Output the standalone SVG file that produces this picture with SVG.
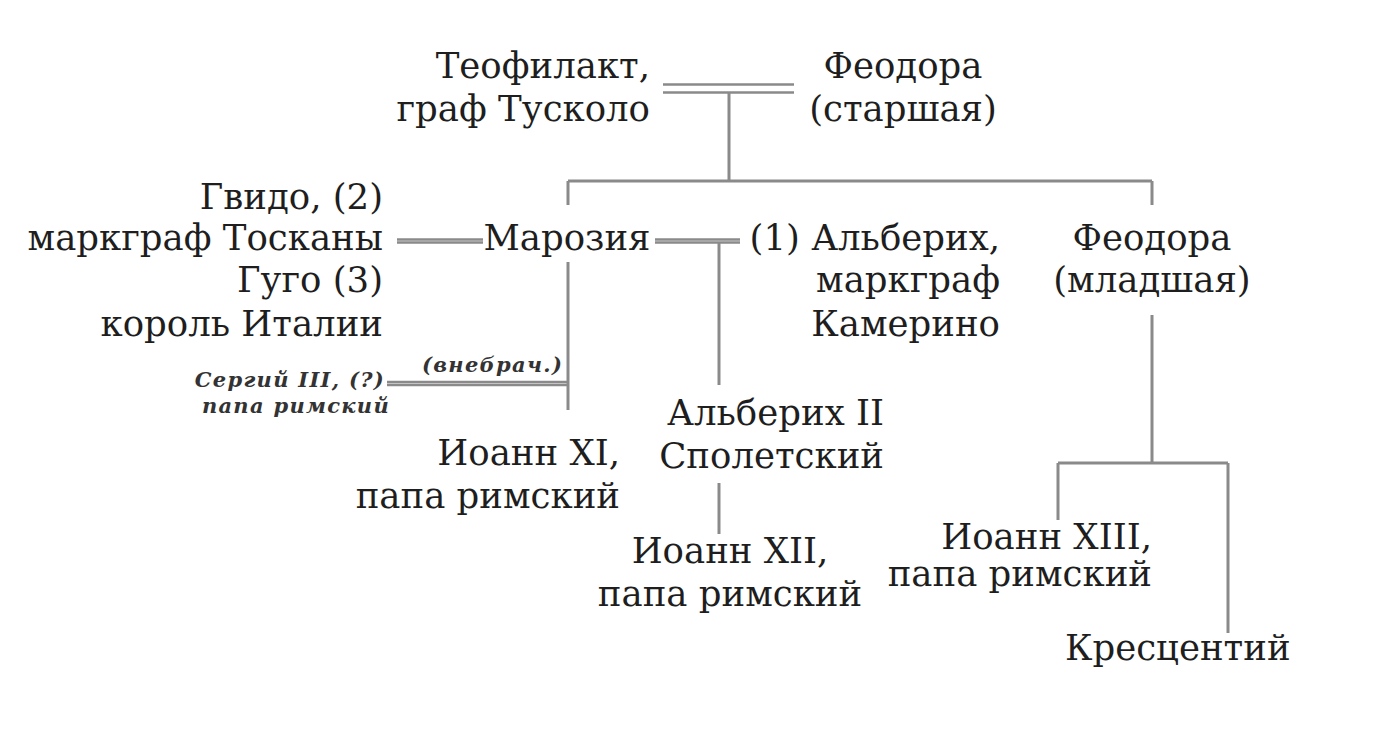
<svg xmlns="http://www.w3.org/2000/svg" width="1400" height="756" viewBox="0 0 1400 756">
<style>
.t{font-family:"DejaVu Serif","Liberation Serif",serif;font-size:35.5px;fill:#1e1e1e}
.s{font-family:"DejaVu Serif","Liberation Serif",serif;font-size:21px;font-style:italic;font-weight:bold;letter-spacing:1.3px;fill:#333}
.e{text-anchor:end}
.m{text-anchor:middle}
.l{stroke:#8a8a8a;stroke-width:3;fill:none}
.d{stroke:#8a8a8a;stroke-width:2.5;fill:none}
</style>
<rect width="1400" height="756" fill="#fff"/>
<g id="connectors">
<path class="d" d="M663 84.5H794M663 92.5H794"/>
<path class="l" d="M729 92.5V181M568 181H1152M568 181V205M1152 181V205"/>
<path class="d" d="M397 239.5H483M397 242.5H483"/>
<path class="d" d="M655 239.5H740M655 242.5H740"/>
<path class="l" d="M719 243V385"/>
<path class="l" d="M568 262V410"/>
<path class="d" d="M387 382H568M387 385H568"/>
<path class="l" d="M719 483V534"/>
<path class="l" d="M1152 315V463M1058 463H1228M1058 463V520M1228 463V633"/>
</g>
<g id="teofilakt"><text class="t e" x="650" y="78">Теофилакт,</text><text class="t e" x="650" y="121">граф Тусколо</text></g>
<g id="feodora-st"><text class="t m" x="903" y="78">Феодора</text><text class="t m" x="903" y="121">(старшая)</text></g>
<g id="gvido"><text class="t e" x="383" y="209">Гвидо, (2)</text><text class="t e" x="383" y="250">маркграф Тосканы</text></g>
<g id="gugo"><text class="t e" x="383" y="292">Гуго (3)</text><text class="t e" x="383" y="336">король Италии</text></g>
<g id="marozia"><text class="t m" x="567" y="250">Марозия</text></g>
<g id="alberih"><text class="t e" x="1000" y="250">(1) Альберих,</text><text class="t e" x="1000" y="292">маркграф</text><text class="t e" x="1000" y="336">Камерино</text></g>
<g id="feodora-ml"><text class="t m" x="1152" y="250">Феодора</text><text class="t m" x="1152" y="292">(младшая)</text></g>
<g id="sergiy"><text class="s e" x="385" y="387">Сергий III, (?)</text><text class="s e" x="390" y="413">папа римский</text><text class="s" x="422" y="372">(внебрач.)</text></g>
<g id="ioann11"><text class="t e" x="620" y="465">Иоанн XI,</text><text class="t e" x="620" y="508">папа римский</text></g>
<g id="alberih2"><text class="t e" x="884" y="425">Альберих II</text><text class="t e" x="884" y="468">Сполетский</text></g>
<g id="ioann12"><text class="t m" x="730" y="563">Иоанн XII,</text><text class="t m" x="730" y="606">папа римский</text></g>
<g id="ioann13"><text class="t e" x="1152" y="549">Иоанн XIII,</text><text class="t e" x="1152" y="586">папа римский</text></g>
<g id="krescentiy"><text class="t" x="1065" y="660">Кресцентий</text></g>
</svg>
